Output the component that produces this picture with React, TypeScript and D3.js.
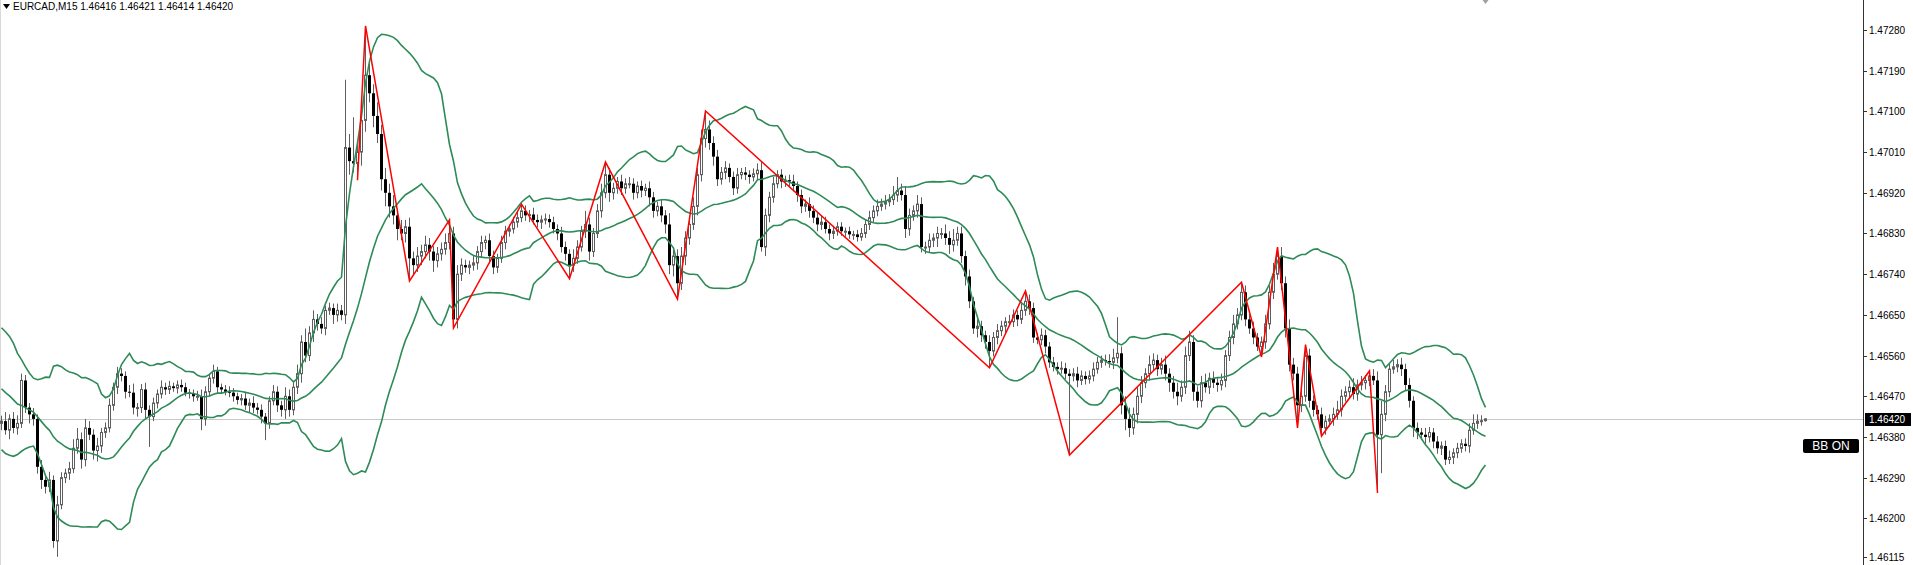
import React from 'react';
import * as d3 from 'd3';

const W = 1913;
const H = 565;

const symbolTitle = 'EURCAD,M15';
const lastOHLC = ['1.46416', '1.46421', '1.46414', '1.46420'];
const lastPrice = 1.4642;
const basePrice = 1.46; // values below are points (0.00001) above this base

// 20 closes before the first visible bar (needed for the Bollinger warm-up)
const warmupCloses = [550, 570, 560, 580, 590, 570, 550, 530, 510, 520, 500, 480, 460, 440, 420, 410, 430, 400, 390, 410];

const closes = [
  415, 395, 420, 400, 410, 505, 445, 430, 420, 314,
  285, 270, 285, 150, 230, 290, 300, 310, 355, 375,
  330, 400, 385, 350, 360, 390, 400, 450, 490, 520,
  515, 480, 478, 445, 445, 485, 440, 425, 455, 475,
  490, 485, 492, 488, 495, 490, 478, 475, 470, 470,
  420, 480, 510, 525, 490, 485, 480, 478, 470, 462,
  465, 450, 455, 445, 440, 425, 410, 460, 480, 450,
  440, 470, 440, 490, 520, 590, 560, 610, 640, 630,
  620, 660, 665, 650, 660, 650, 1020, 990, 985, 1010,
  1080, 1180, 1140, 1090, 1050, 950, 920, 890, 870, 840,
  830, 845, 775, 760, 780, 790, 805, 790, 770, 785,
  795, 810, 830, 640, 740, 760, 755, 760, 765, 790,
  810, 815, 780, 755, 775, 810, 835, 840, 855, 865,
  880, 870, 872, 860, 855, 860, 862, 855, 840, 830,
  800, 785, 760, 775, 800, 835, 850, 790, 830, 880,
  920, 960, 920, 930, 945, 930, 940, 940, 920, 935,
  925, 930, 910, 880, 890, 870, 850, 760, 780, 720,
  780, 820, 850, 890, 960, 1040, 1060, 1030, 1000, 950,
  965, 975, 955, 930, 960, 965, 960, 955, 962, 970,
  800, 870, 910, 940, 960, 945, 948, 945, 935, 915,
  890, 895, 880, 865, 850, 855, 840, 830, 835, 845,
  835, 835, 828, 828, 822, 830, 850, 865, 880, 890,
  895, 900, 905, 915, 925, 915, 840, 870, 880, 895,
  800, 800, 815, 820, 830, 830, 820, 805, 815, 830,
  780, 735, 680, 620, 625, 605, 590, 570, 600, 615,
  625, 635, 635, 650, 640, 660, 680, 665, 600, 595,
  605, 580, 545, 535, 530, 532, 520, 515, 520, 505,
  515, 508, 515, 530, 545, 550, 548, 545, 555, 565,
  450, 420, 400, 430, 470, 500, 520, 540, 550, 530,
  540, 520, 500, 480, 470, 490, 560, 590, 480, 460,
  500, 490, 510, 500, 495, 505, 560, 600, 630, 650,
  700, 640, 620, 600, 580, 590, 630, 700, 740, 780,
  720, 620, 540, 520, 450, 470, 560, 460, 440, 430,
  400, 415, 420, 430, 440, 470, 480, 490, 475, 495,
  500, 505, 515, 505, 385, 430, 480, 530, 535, 540,
  530, 495, 460, 400, 390, 385, 380, 390, 370, 355,
  360, 330, 335, 345, 355, 365, 360, 395, 410, 415,
  416, 420,
];

// upper wick length above the body (points)
const wickHi = [
  12, 20, 10, 15, 18, 15, 12, 10, 14, 10,
  15, 12, 18, 10, 20, 12, 10, 15, 20, 25,
  15, 20, 15, 12, 18, 10, 12, 15, 10, 15,
  12, 10, 15, 20, 10, 12, 15, 10, 12, 10,
  15, 10, 12, 8, 10, 12, 10, 8, 10, 12,
  15, 12, 10, 15, 10, 8, 10, 12, 10, 8,
  10, 12, 10, 15, 10, 12, 8, 10, 15, 12,
  10, 20, 15, 12, 20, 15, 30, 15, 20, 12,
  15, 10, 12, 10, 15, 12, 150, 30, 97, 20,
  20, 109, 25, 20, 30, 20, 25, 20, 25, 15,
  20, 15, 20, 15, 20, 15, 20, 15, 12, 15,
  15, 20, 30, 15, 20, 15, 12, 10, 15, 12,
  15, 10, 15, 12, 10, 15, 12, 10, 12, 15,
  15, 12, 10, 15, 12, 10, 12, 10, 12, 10,
  15, 12, 10, 20, 15, 12, 30, 15, 12, 15,
  20, 28, 15, 12, 10, 15, 12, 15, 12, 10,
  12, 10, 15, 12, 10, 15, 12, 25, 20, 15,
  20, 15, 12, 20, 15, 20, 41, 20, 15, 15,
  12, 15, 10, 12, 15, 10, 12, 10, 12, 15,
  20, 15, 12, 15, 10, 12, 10, 12, 15, 10,
  12, 10, 15, 12, 10, 15, 12, 10, 12, 10,
  10, 8, 10, 8, 10, 12, 10, 15, 12, 15,
  12, 15, 12, 20, 30, 15, 20, 15, 12, 20,
  15, 12, 15, 10, 15, 12, 20, 15, 25, 15,
  15, 12, 15, 10, 15, 12, 10, 15, 12, 15,
  12, 10, 15, 12, 10, 15, 23, 15, 12, 10,
  15, 12, 10, 12, 10, 15, 12, 10, 12, 15,
  12, 10, 12, 15, 12, 10, 12, 15, 20, 80,
  15, 20, 25, 15, 20, 15, 12, 20, 15, 12,
  15, 20, 12, 15, 20, 15, 20, 25, 15, 12,
  15, 20, 12, 15, 10, 15, 12, 15, 20, 15,
  22, 15, 12, 15, 10, 12, 20, 15, 25, 20,
  20, 15, 20, 15, 15, 20, 24, 15, 12, 10,
  15, 12, 10, 15, 20, 15, 12, 15, 20, 12,
  15, 12, 11, 15, 20, 30, 15, 12, 15, 12,
  15, 12, 15, 10, 12, 10, 15, 12, 10, 12,
  10, 12, 15, 10, 12, 10, 12, 15, 20, 15,
  12, 1,
];

// lower wick length below the body (points)
const wickLo = [
  15, 10, 20, 12, 15, 10, 12, 20, 15, 15,
  20, 15, 12, 15, 35, 10, 12, 15, 10, 12,
  20, 15, 12, 20, 24, 15, 12, 10, 12, 15,
  12, 15, 10, 15, 20, 12, 20, 67, 10, 12,
  10, 12, 10, 8, 12, 10, 8, 10, 12, 10,
  25, 15, 10, 12, 15, 10, 8, 10, 12, 10,
  12, 10, 15, 12, 10, 15, 37, 12, 10, 15,
  15, 20, 15, 12, 15, 20, 15, 12, 20, 15,
  12, 15, 10, 20, 15, 12, 20, 30, 20, 37,
  30, 25, 20, 25, 20, 25, 30, 25, 20, 25,
  15, 20, 50, 20, 15, 20, 15, 20, 25, 15,
  15, 12, 15, 19, 20, 15, 12, 15, 12, 15,
  12, 15, 12, 15, 12, 10, 15, 12, 10, 12,
  10, 12, 15, 10, 12, 15, 10, 12, 10, 15,
  12, 15, 30, 15, 12, 10, 15, 20, 12, 10,
  15, 12, 20, 15, 12, 15, 12, 10, 15, 12,
  15, 12, 20, 15, 12, 15, 20, 20, 25, 35,
  15, 20, 15, 12, 20, 15, 20, 15, 20, 15,
  12, 15, 12, 15, 12, 10, 12, 15, 10, 12,
  10, 20, 15, 12, 10, 15, 12, 10, 12, 15,
  15, 12, 15, 12, 15, 12, 10, 15, 12, 10,
  10, 12, 10, 12, 10, 8, 10, 12, 10, 12,
  10, 12, 10, 12, 15, 12, 20, 15, 12, 15,
  12, 15, 12, 15, 20, 12, 15, 20, 15, 12,
  15, 20, 15, 12, 20, 15, 15, 37, 12, 15,
  12, 15, 10, 12, 15, 10, 12, 15, 12, 10,
  12, 15, 12, 10, 12, 10, 12, 175, 12, 15,
  10, 12, 10, 12, 10, 12, 10, 12, 15, 12,
  20, 25, 20, 15, 20, 15, 12, 15, 12, 15,
  12, 15, 20, 15, 20, 12, 15, 12, 20, 15,
  15, 12, 15, 12, 15, 12, 15, 12, 15, 12,
  12, 15, 12, 15, 10, 23, 15, 12, 15, 12,
  15, 20, 15, 15, 50, 15, 12, 15, 15, 12,
  18, 15, 12, 15, 12, 15, 12, 15, 12, 15,
  12, 15, 12, 10, 129, 85, 15, 12, 10, 12,
  15, 12, 15, 20, 15, 12, 15, 12, 15, 12,
  15, 12, 10, 15, 12, 10, 12, 15, 10, 12,
  10, 2,
];

// ZigZag turning points: bar index and whether it sits on the bar's high or low
const zigzagBars = [89, 91, 102, 112, 113, 130, 142, 151, 169, 176, 247, 256, 267, 310, 315, 319, 324, 326, 330, 342, 344];
const zigzagSides = ['L', 'H', 'L', 'H', 'L', 'H', 'L', 'H', 'L', 'H', 'L', 'H', 'L', 'H', 'L', 'H', 'L', 'H', 'L', 'H', 'L'];

const priceTicks = [1.4728, 1.4719, 1.471, 1.4701, 1.4692, 1.4683, 1.4674, 1.4665, 1.4656, 1.4647, 1.4638, 1.4629, 1.462, 1.46115];

const bbPeriod = 20;
const bbDeviation = 2;

const FONT = "'Liberation Sans', Arial, sans-serif";

export default function App() {
  const N = closes.length;
  const toPrice = (p: number) => basePrice + p / 100000;

  const x = d3.scaleLinear().domain([0, N - 1]).range([1, 1485]);
  const y = d3.scaleLinear().domain([1.46115, 1.4728]).range([556.8, 30]);
  const axisX = 1863;

  const bars = closes.map((c, i) => {
    const o = i === 0 ? warmupCloses[warmupCloses.length - 1] : closes[i - 1];
    const top = Math.max(o, c);
    const bot = Math.min(o, c);
    return {
      i,
      open: toPrice(o),
      close: toPrice(c),
      high: toPrice(top + wickHi[i]),
      low: toPrice(bot - wickLo[i]),
    };
  });

  const allCloses = [...warmupCloses, ...closes].map(toPrice);
  const bands = closes.map((_, i) => {
    const end = i + warmupCloses.length;
    const win = allCloses.slice(end - bbPeriod + 1, end + 1);
    const mean = d3.mean(win) as number;
    const sd = Math.sqrt(d3.mean(win.map((v) => (v - mean) * (v - mean))) as number);
    return { i, mid: mean, up: mean + bbDeviation * sd, lo: mean - bbDeviation * sd };
  });

  const lineOf = (key: 'mid' | 'up' | 'lo') =>
    d3
      .line<{ i: number; mid: number; up: number; lo: number }>()
      .x((d) => x(d.i) + 0.5)
      .y((d) => y(d[key]))(bands) as string;

  const zz = zigzagBars.map((b, k) => ({
    i: b,
    p: zigzagSides[k] === 'H' ? bars[b].high : bars[b].low,
  }));
  const zzPath = d3
    .line<{ i: number; p: number }>()
    .x((d) => x(d.i) + 0.5)
    .y((d) => y(d.p))(zz) as string;

  const wickColor = '#5e5e5e';
  const bandColor = '#2e8b57';
  const yLast = y(lastPrice);
  const shiftX = Math.round(x(N - 1)) + 0.5;

  return (
    <div style={{ position: 'fixed', left: 0, top: 0, width: W, height: H, background: '#fff' }}>
      <svg width={W} height={H} style={{ display: 'block' }}>
        <rect x={0} y={0} width={W} height={H} fill="#ffffff" />
        <line x1={0.5} y1={0} x2={0.5} y2={H} stroke="#d8d8d8" />
        <line x1={0} y1={Math.round(yLast) + 0.5} x2={axisX} y2={Math.round(yLast) + 0.5} stroke="#c8c8c8" />

        {/* chart shift marker */}
        <path d={`M${shiftX - 3},0 L${shiftX + 3},0 L${shiftX},4 Z`} fill="#a0a0a0" />

        {/* candles */}
        <g>
          {bars.map((b) => {
            const cx = Math.round(x(b.i));
            const yh = y(b.high);
            const yl = y(b.low);
            const yo = y(b.open);
            const yc = y(b.close);
            const top = Math.min(yo, yc);
            const h = Math.max(1, Math.abs(yo - yc));
            const bull = b.close >= b.open;
            return (
              <g key={b.i}>
                <line x1={cx + 0.5} x2={cx + 0.5} y1={yh} y2={yl} stroke={wickColor} strokeWidth={1} />
                {bull ? (
                  <rect x={cx - 0.5} y={top} width={2} height={h} fill="#ffffff" stroke={wickColor} strokeWidth={1} />
                ) : (
                  <rect x={cx - 1} y={top} width={3} height={h} fill="#000000" />
                )}
              </g>
            );
          })}
        </g>

        {/* Bollinger bands */}
        <g fill="none" stroke={bandColor} strokeWidth={1.6}>
          <path d={lineOf('up')} />
          <path d={lineOf('mid')} />
          <path d={lineOf('lo')} />
        </g>

        {/* ZigZag */}
        <path d={zzPath} fill="none" stroke="#ff0000" strokeWidth={1.5} />

        {/* header */}
        <path d="M3,4 L10,4 L6.5,9 Z" fill="#000" />
        <text x={13} y={9.5} fontFamily={FONT} fontSize={10} fill="#000">
          {`${symbolTitle}  ${lastOHLC.join(' ')}`}
        </text>

        {/* right price axis */}
        <line x1={axisX + 0.5} y1={0} x2={axisX + 0.5} y2={H} stroke="#333" />
        {priceTicks.map((t) => {
          const ty = Math.round(y(t)) + 0.5;
          return (
            <g key={t}>
              <line x1={axisX} x2={axisX + 4} y1={ty} y2={ty} stroke="#333" />
              <text x={1869} y={ty} dy="0.35em" fontFamily={FONT} fontSize={10} fill="#000">
                {t.toFixed(5)}
              </text>
            </g>
          );
        })}
        <rect x={1865} y={Math.round(yLast) - 6} width={46} height={13} fill="#000" />
        <text x={1869} y={Math.round(yLast) + 0.5} dy="0.35em" fontFamily={FONT} fontSize={10} fill="#fff">
          {lastPrice.toFixed(5)}
        </text>

        {/* BB ON label */}
        <rect x={1803} y={439} width={56} height={14} rx={2} fill="#000" />
        <text x={1831} y={446} dy="0.36em" textAnchor="middle" fontFamily={FONT} fontSize={12} fill="#fff">
          BB ON
        </text>
      </svg>
    </div>
  );
}
